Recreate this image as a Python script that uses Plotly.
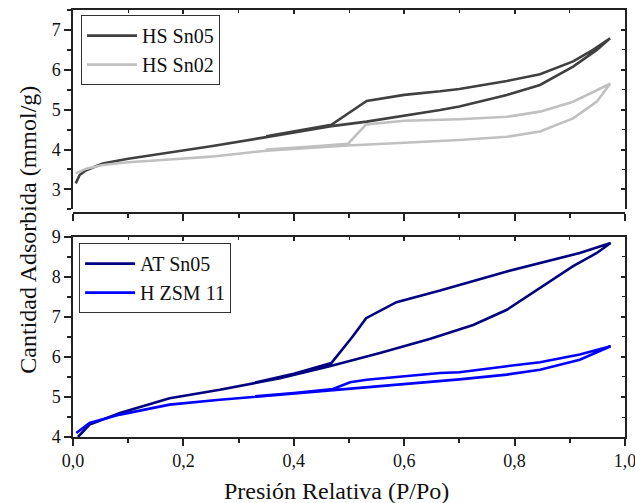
import plotly.graph_objects as go

# ---- data (relative pressure P/Po, adsorbed amount mmol/g) ----
hs_sn05_ads_x = [0.005, 0.012, 0.024, 0.054, 0.10, 0.175, 0.25, 0.35, 0.465, 0.532, 0.60, 0.665, 0.70, 0.786, 0.846, 0.906, 0.949, 0.973]
hs_sn05_ads_y = [3.15, 3.36, 3.48, 3.65, 3.77, 3.92, 4.08, 4.31, 4.58, 4.70, 4.84, 4.99, 5.08, 5.37, 5.62, 6.08, 6.50, 6.79]
hs_sn05_des_x = [0.973, 0.942, 0.906, 0.846, 0.786, 0.70, 0.665, 0.60, 0.532, 0.468, 0.40, 0.35]
hs_sn05_des_y = [6.79, 6.50, 6.21, 5.89, 5.72, 5.52, 5.46, 5.37, 5.22, 4.62, 4.45, 4.33]

hs_sn02_ads_x = [0.005, 0.024, 0.054, 0.10, 0.175, 0.25, 0.35, 0.42, 0.498, 0.60, 0.70, 0.786, 0.846, 0.906, 0.949, 0.973]
hs_sn02_ads_y = [3.40, 3.52, 3.61, 3.68, 3.75, 3.82, 3.97, 4.04, 4.10, 4.17, 4.24, 4.32, 4.45, 4.78, 5.20, 5.65]
hs_sn02_des_x = [0.973, 0.906, 0.846, 0.786, 0.70, 0.665, 0.60, 0.531, 0.498, 0.42, 0.35]
hs_sn02_des_y = [5.65, 5.20, 4.95, 4.82, 4.76, 4.75, 4.72, 4.63, 4.14, 4.06, 4.00]

at_sn05_ads_x = [0.009, 0.030, 0.085, 0.175, 0.266, 0.375, 0.465, 0.556, 0.646, 0.70, 0.725, 0.786, 0.846, 0.906, 0.949, 0.974]
at_sn05_ads_y = [4.00, 4.31, 4.60, 4.97, 5.18, 5.47, 5.77, 6.10, 6.45, 6.68, 6.80, 7.18, 7.72, 8.27, 8.60, 8.85]
at_sn05_des_x = [0.974, 0.918, 0.846, 0.786, 0.70, 0.665, 0.586, 0.531, 0.507, 0.468, 0.40, 0.33]
at_sn05_des_y = [8.85, 8.60, 8.35, 8.14, 7.80, 7.66, 7.37, 6.97, 6.52, 5.85, 5.58, 5.36]

hzsm11_ads_x = [0.006, 0.030, 0.085, 0.175, 0.266, 0.393, 0.465, 0.55, 0.665, 0.70, 0.786, 0.846, 0.918, 0.974]
hzsm11_ads_y = [4.10, 4.35, 4.56, 4.81, 4.93, 5.08, 5.16, 5.25, 5.39, 5.44, 5.56, 5.68, 5.93, 6.27]
hzsm11_des_x = [0.974, 0.918, 0.846, 0.786, 0.70, 0.665, 0.532, 0.502, 0.471, 0.40, 0.33]
hzsm11_des_y = [6.27, 6.06, 5.87, 5.77, 5.62, 5.60, 5.43, 5.37, 5.20, 5.10, 5.02]

x_tickvals = [0.0, 0.2, 0.4, 0.6, 0.8, 1.0]
x_ticktext = ["0,0", "0,2", "0,4", "0,6", "0,8", "1,0"]
top_yticks = [3, 4, 5, 6, 7]
bot_yticks = [4, 5, 6, 7, 8, 9]

FONT = "Liberation Serif"
AX = "#222222"

fig = go.Figure()

def add(xa, ya, xd, yd, name, color, xref, yref, legend):
    fig.add_trace(go.Scatter(x=xa + xd, y=ya + yd, mode="lines", name=name,
                             line=dict(color=color, width=2.6),
                             xaxis=xref, yaxis=yref, legend=legend))

add(hs_sn05_ads_x, hs_sn05_ads_y, hs_sn05_des_x, hs_sn05_des_y, "HS Sn05", "#404040", "x2", "y2", "legend")
add(hs_sn02_ads_x, hs_sn02_ads_y, hs_sn02_des_x, hs_sn02_des_y, "HS Sn02", "#c0c0c0", "x2", "y2", "legend")
add(at_sn05_ads_x, at_sn05_ads_y, at_sn05_des_x, at_sn05_des_y, "AT Sn05", "#000080", "x", "y", "legend2")
add(hzsm11_ads_x, hzsm11_ads_y, hzsm11_des_x, hzsm11_des_y, "H ZSM 11", "#0000ff", "x", "y", "legend2")

top_dom = [0.5333, 1.0]
bot_dom = [0.0, 0.4684]

common_x = dict(range=[0, 1], tickvals=x_tickvals, showline=True, linecolor=AX, linewidth=1.5,
                tickcolor=AX, tickwidth=1.5, showgrid=False, zeroline=False, automargin=False)
common_y = dict(showline=True, linecolor=AX, linewidth=1.5, tickcolor=AX, tickwidth=1.5,
                showgrid=False, zeroline=False, automargin=False)

fig.update_layout(
    width=635, height=503,
    margin=dict(l=73, r=10, t=10, b=66, autoexpand=False),
    paper_bgcolor="white", plot_bgcolor="white",
    font=dict(family=FONT, size=18, color="#111111"),
    showlegend=True,
    # bottom panel
    xaxis=dict(**common_x, domain=[0, 1], anchor="y", ticktext=x_ticktext, ticks="outside", ticklen=7,
               ticklabeloverflow="allow",
               minor=dict(ticks="outside", ticklen=4, dtick=0.1, tickcolor=AX, tickwidth=1.5),
               tickfont=dict(family=FONT, size=18)),
    yaxis=dict(**common_y, domain=bot_dom, anchor="x", range=[4, 9], tickvals=bot_yticks, ticks="outside",
               ticklen=7, tickfont=dict(family=FONT, size=18),
               minor=dict(ticks="outside", ticklen=4, dtick=0.5, tickcolor=AX, tickwidth=1.5)),
    # top panel
    xaxis2=dict(**common_x, domain=[0, 1], anchor="free", position=0.524, showticklabels=False,
                ticks="outside", ticklen=7,
                minor=dict(ticks="outside", ticklen=4, dtick=0.1, tickcolor=AX, tickwidth=1.5)),
    yaxis2=dict(**common_y, domain=top_dom, anchor="x2", range=[2.5, 7.5], tickvals=top_yticks,
                ticks="outside", ticklen=7, tickfont=dict(family=FONT, size=18),
                minor=dict(ticks="outside", ticklen=4, dtick=0.5, tickcolor=AX, tickwidth=1.5)),
    # mirrored frames with inward ticks
    xaxis3=dict(**common_x, overlaying="x", anchor="y", side="top", showticklabels=False, ticks="inside",
                ticklen=4, minor=dict(ticks="inside", ticklen=3, dtick=0.1, tickcolor=AX, tickwidth=1.2)),
    yaxis3=dict(**common_y, overlaying="y", anchor="x", side="right", range=[4, 9], tickvals=bot_yticks,
                showticklabels=False, ticks="inside", ticklen=4,
                minor=dict(ticks="inside", ticklen=3, dtick=0.5, tickcolor=AX, tickwidth=1.2)),
    xaxis4=dict(**common_x, overlaying="x2", anchor="y2", side="top", showticklabels=False, ticks="inside",
                ticklen=4, minor=dict(ticks="inside", ticklen=3, dtick=0.1, tickcolor=AX, tickwidth=1.2)),
    yaxis4=dict(**common_y, overlaying="y2", anchor="x2", side="right", range=[2.5, 7.5], tickvals=top_yticks,
                showticklabels=False, ticks="inside", ticklen=4,
                minor=dict(ticks="inside", ticklen=3, dtick=0.5, tickcolor=AX, tickwidth=1.2)),
    legend=dict(x=0.0145, y=0.988, xanchor="left", yanchor="top", bordercolor="#333333", borderwidth=1,
                bgcolor="white", font=dict(family=FONT, size=20), tracegroupgap=0, itemwidth=50),
    legend2=dict(x=0.0110, y=0.454, xanchor="left", yanchor="top", bordercolor="#333333", borderwidth=1,
                 bgcolor="white", font=dict(family=FONT, size=20), tracegroupgap=0, itemwidth=50),
    annotations=[
        dict(text="Cantidad Adsorbida (mmol/g)", textangle=-90, xref="paper", yref="paper",
             x=-0.082, y=0.485, xanchor="center", yanchor="middle", showarrow=False,
             font=dict(family=FONT, size=24)),
        dict(text="Presión Relativa (P/Po)", xref="paper", yref="paper",
             x=0.478, y=-0.126, xanchor="center", yanchor="middle", showarrow=False,
             font=dict(family=FONT, size=24)),
    ],
)

# dummy traces to activate the mirror axes
fig.add_trace(go.Scatter(x=[None], y=[None], xaxis="x3", yaxis="y3", showlegend=False, hoverinfo="skip"))
fig.add_trace(go.Scatter(x=[None], y=[None], xaxis="x4", yaxis="y4", showlegend=False, hoverinfo="skip"))

fig.write_html("out.html", config={"displayModeBar": False},
               post_script="document.body.style.margin='0px';document.body.style.padding='0px';"
                           "document.body.style.overflow='hidden';")
